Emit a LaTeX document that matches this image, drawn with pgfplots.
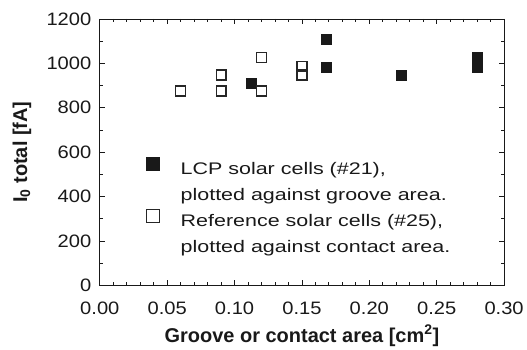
\documentclass[border=0pt]{standalone}
\usepackage{graphicx}
\usepackage{pgfplots}
\pgfplotsset{compat=1.18}
\usepackage{fontspec}
\setmainfont{Liberation Sans}
\newfontfamily\tickfont{Liberation Sans}[FakeStretch=1.12]
\newcommand\lf{\fontsize{16.8}{20}\selectfont}
\newcommand\legtxt[1]{\scalebox{1.28}[1]{\lf #1}}
\begin{document}
\begin{tikzpicture}
\begin{axis}[
  scale only axis, width=405pt, height=267pt,
  xmin=0, xmax=0.3, ymin=0, ymax=1200,
  xtick={0,0.05,...,0.3}, ytick={0,200,...,1200},
  minor x tick num=4, minor y tick num=1,
  tick align=inside, tick pos=both,
  major tick length=5pt, minor tick length=3pt,
  axis line style={line width=0.9pt, black!90}, tick style={line width=0.9pt, black!90},
  /pgf/number format/assume math mode=true,
  /pgf/number format/1000 sep={},
  xticklabel style={/pgf/number format/fixed, /pgf/number format/fixed zerofill, /pgf/number format/precision=2, anchor=base, yshift=-29pt},
  yticklabel style={/pgf/number format/fixed, anchor=east, xshift=-5pt},
  scaled x ticks=false,
  ticklabel style={font=\tickfont\fontsize{18}{20}\selectfont, text=black!90},
  xlabel={\textbf{Groove or contact area [cm\textsuperscript{2}]}},
  ylabel={\textbf{I\textsubscript{0} total [fA]}},
  label style={font=\fontsize{20}{22}\selectfont, text=black!90},
  xlabel style={at={(axis description cs:0.5,0)}, anchor=base, yshift=-56.7pt},
  ylabel style={at={(axis description cs:-0.1926,0.5)}, anchor=center},
  legend style={draw=none, fill=none, at={(0.1148,0.483)}, anchor=north west,
    inner sep=0pt, outer sep=0pt,
    font=\lf, row sep=0pt, column sep=21.5pt,
    nodes={inner sep=0pt, text height=18pt, text depth=8pt, text=black!90}},
  legend cell align=left,
  legend image post style={yshift=6pt, mark size=6.5pt},
]
\addplot[only marks, mark=square*, mark size=5pt, draw=black!90, fill=black!90] coordinates {
  (0.112,911) (0.168,1110) (0.168,984) (0.224,948) (0.280,1026) (0.280,984)
};
\addlegendentry{\legtxt{LCP solar cells (\#21),}}
\addlegendimage{only marks, mark=square, mark options={draw opacity=0}}
\addlegendentry{\legtxt{plotted against groove area.}}
\addplot[only marks, mark=square, mark size=5pt, mark options={line width=1.2pt}, draw=black!85] coordinates {
  (0.060,876) (0.090,948) (0.090,876) (0.120,1026) (0.120,876) (0.150,986) (0.150,948)
};
\addlegendentry{\legtxt{Reference solar cells (\#25),}}
\addlegendimage{only marks, mark=square, mark options={draw opacity=0}}
\addlegendentry{\legtxt{plotted against contact area.}}
\end{axis}
\path[use as bounding box] (-100pt,-62pt) rectangle (427pt,286pt);
\end{tikzpicture}
\end{document}
